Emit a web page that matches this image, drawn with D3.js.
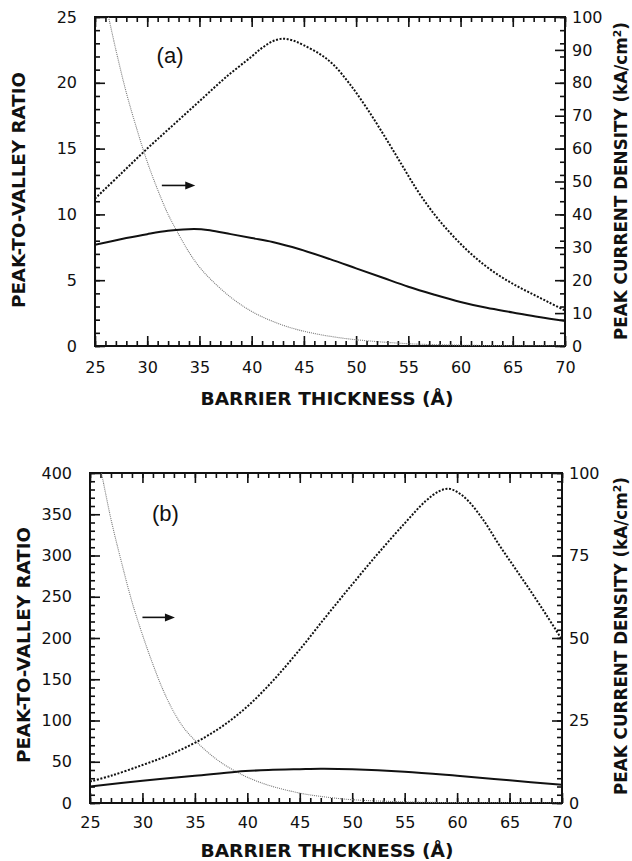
<!DOCTYPE html>
<html>
<head>
<meta charset="utf-8">
<script src="https://cdn.jsdelivr.net/npm/d3@7"></script>
<style>
  body { margin: 0; background: #fff; }
  svg { display: block; font-family: "DejaVu Sans", Arial, sans-serif; }
  .tick text { font-size: 16px; fill: #111; font-family: "DejaVu Sans", sans-serif; }
  .tick line { stroke: #111; stroke-width: 1.6; }
  .title { font-size: 17px; font-weight: bold; fill: #111; }
</style>
</head>
<body>
<svg id="chart" width="632" height="861"></svg>
<script>
// panel (a) data
const aSolidX = [25, 28, 30, 32, 34.5, 36, 38, 40, 42, 44.6, 47.5, 50, 52.5, 55, 57.5, 60, 62.5, 65, 67.5, 70];
const aSolidY = [7.7, 8.2, 8.5, 8.75, 8.9, 8.8, 8.5, 8.2, 7.9, 7.35, 6.6, 5.9, 5.2, 4.5, 3.9, 3.35, 2.9, 2.55, 2.2, 1.9];
const aDashX = [25, 27.5, 30, 32.5, 35, 37.5, 40, 41, 42, 43, 44, 45, 46.5, 47.8, 49.4, 51, 52.6, 54.2, 55.8, 57.4, 59, 60.6, 62.2, 63.8, 65.4, 67, 68.5, 70];
const aDashY = [11.2, 13.1, 15.0, 16.8, 18.6, 20.4, 22.0, 22.65, 23.15, 23.35, 23.2, 22.85, 22.2, 21.4, 19.9, 18.1, 16.1, 14.0, 11.9, 10.1, 8.6, 7.3, 6.2, 5.3, 4.55, 3.9, 3.3, 2.7];
const aDotX = [26.3, 27, 28, 29, 30, 31, 32, 33, 34, 35, 36, 38, 40, 42, 44, 46, 48, 50, 55, 60, 70];
const aDotY = [100, 90, 77, 66, 56, 47.5, 40, 34, 28.5, 24, 20.5, 14.8, 10.5, 7.5, 5.3, 3.8, 2.7, 1.9, 0.7, 0.25, 0];

// panel (b) data
const bSolidX = [25, 30, 35, 39, 42, 45, 47, 50, 55, 60, 65, 70];
const bSolidY = [20, 27, 33, 38, 40, 41, 41.5, 41, 38, 33, 27.5, 22];
const bDashX = [25, 27, 30, 32.5, 35, 37.5, 40, 42.5, 45, 47.5, 50, 52.5, 55, 57, 58.3, 59.2, 60, 61, 62.5, 64, 65.5, 67, 68.5, 70];
const bDashY = [26, 33, 46, 58, 73, 92, 117, 149, 186, 226, 265, 303, 339, 366, 378, 381, 377, 367, 343, 313, 285, 257, 228, 198];
const bDotX = [26.1, 27, 28, 29, 30, 31, 32, 33, 34, 35, 36, 37, 38, 39, 40, 42, 45, 47, 50, 55, 60, 70];
const bDotY = [100, 86, 73, 61, 51, 42, 34, 27.5, 22.5, 19, 16, 13.4, 11.2, 9.4, 7.8, 5.4, 3.0, 2.0, 1.0, 0.35, 0.12, 0];

// axes
const xMajor = d3.range(25, 71, 5);
const xMinor = d3.range(25, 71, 1);
const aLeftMajor = d3.range(0, 26, 5);
const aLeftMinor = d3.range(0, 26, 1);
const aRightMajor = d3.range(0, 101, 10);
const bLeftMajor = d3.range(0, 401, 50);
const bLeftMinor = d3.range(0, 401, 10);
const bRightMajor = d3.range(0, 101, 25);

const xTitle = 'BARRIER THICKNESS (Å)';
const leftTitle = 'PEAK-TO-VALLEY RATIO';

const svg = d3.select('#chart');

function drawPanel(cfg) {
    const x = d3.scaleLinear().domain([25, 70]).range([cfg.left, cfg.right]);
    const yL = d3.scaleLinear().domain([0, cfg.leftMax]).range([cfg.bottom, cfg.top]);
    const yR = d3.scaleLinear().domain([0, 100]).range([cfg.bottom, cfg.top]);
    const g = svg.append('g');

    const clipId = 'clip-' + cfg.name;
    g.append('clipPath').attr('id', clipId)
        .append('rect')
        .attr('x', cfg.left).attr('y', cfg.top)
        .attr('width', cfg.right - cfg.left).attr('height', cfg.bottom - cfg.top);

    // ticks (all pointing inward)
    function addAxis(axis, tx, ty) {
        const a = g.append('g').attr('transform', `translate(${tx},${ty})`).call(axis);
        a.select('.domain').remove();
        return a;
    }
    addAxis(d3.axisBottom(x).tickValues(xMinor).tickSize(-5).tickFormat(''), 0, cfg.bottom);
    addAxis(d3.axisBottom(x).tickValues(xMajor).tickSize(-10).tickPadding(cfg.xPad), 0, cfg.bottom);
    addAxis(d3.axisTop(x).tickValues(xMinor).tickSize(-5).tickFormat(''), 0, cfg.top);
    addAxis(d3.axisTop(x).tickValues(xMajor).tickSize(-10).tickFormat(''), 0, cfg.top);
    addAxis(d3.axisLeft(yL).tickValues(cfg.leftMinor).tickSize(-5).tickFormat(''), cfg.left, 0);
    addAxis(d3.axisLeft(yL).tickValues(cfg.leftMajor).tickSize(-10).tickPadding(18), cfg.left, 0);
    addAxis(d3.axisRight(yL).tickValues(cfg.leftMinor).tickSize(-5).tickFormat(''), cfg.right, 0);
    addAxis(d3.axisRight(yR).tickValues(cfg.rightMajor).tickSize(-10).tickPadding(7), cfg.right, 0);

    // frame
    g.append('rect')
        .attr('x', cfg.left).attr('y', cfg.top)
        .attr('width', cfg.right - cfg.left).attr('height', cfg.bottom - cfg.top)
        .attr('fill', 'none').attr('stroke', '#111').attr('stroke-width', 2);

    const curve = d3.curveCatmullRom.alpha(0.5);
    const lineL = d3.line().x(d => x(d[0])).y(d => yL(d[1])).curve(curve);
    const lineR = d3.line().x(d => x(d[0])).y(d => yR(d[1])).curve(curve);
    const curves = g.append('g').attr('clip-path', `url(#${clipId})`);

    // thin dotted grey curve (right axis)
    curves.append('path')
        .datum(d3.zip(cfg.dotX, cfg.dotY))
        .attr('d', lineR)
        .attr('fill', 'none').attr('stroke', '#777')
        .attr('stroke-width', 1.1).attr('stroke-dasharray', '1,1');

    // heavy dotted curve
    curves.append('path')
        .datum(d3.zip(cfg.dashX, cfg.dashY))
        .attr('d', lineL)
        .attr('fill', 'none').attr('stroke', '#111')
        .attr('stroke-width', 2).attr('stroke-dasharray', '2,1.6');

    // solid curve
    curves.append('path')
        .datum(d3.zip(cfg.solidX, cfg.solidY))
        .attr('d', lineL)
        .attr('fill', 'none').attr('stroke', '#111')
        .attr('stroke-width', 2);

    // panel label
    g.append('text')
        .attr('x', x(cfg.labelAt[0])).attr('y', yL(cfg.labelAt[1]))
        .attr('font-size', 22).attr('fill', '#111')
        .attr('font-family', '"Liberation Sans", Arial, sans-serif')
        .text(cfg.label);

    // arrow pointing to the right axis
    const ay = yL(cfg.arrow[2]);
    const ax1 = x(cfg.arrow[0]), ax2 = x(cfg.arrow[1]);
    g.append('line')
        .attr('x1', ax1).attr('x2', ax2 - 8).attr('y1', ay).attr('y2', ay)
        .attr('stroke', '#111').attr('stroke-width', 1.6);
    g.append('path')
        .attr('d', `M${ax2},${ay} L${ax2 - 10},${ay - 4} L${ax2 - 10},${ay + 4} Z`)
        .attr('fill', '#111');

    // titles
    g.append('text').attr('class', 'title')
        .attr('x', 327).attr('y', cfg.xTitleY)
        .attr('text-anchor', 'middle')
        .attr('textLength', 253).attr('lengthAdjust', 'spacingAndGlyphs')
        .text(xTitle);
    g.append('text').attr('class', 'title')
        .attr('transform', `translate(${cfg.leftTitleX},${cfg.leftTitleY}) rotate(-90)`)
        .attr('text-anchor', 'middle')
        .attr('textLength', 236).attr('lengthAdjust', 'spacingAndGlyphs')
        .text(leftTitle);
    const rt = g.append('text').attr('class', 'title')
        .attr('transform', `translate(627,${cfg.rightTitleY}) rotate(-90)`)
        .attr('text-anchor', 'middle')
        .attr('font-size', 16)
        .attr('textLength', 318).attr('lengthAdjust', 'spacingAndGlyphs');
    rt.append('tspan').text('PEAK CURRENT DENSITY (kA/cm');
    rt.append('tspan').attr('dy', -6).attr('font-size', 11).text('2');
    rt.append('tspan').attr('dy', 6).text(')');
}

drawPanel({
    name: 'a', left: 95, right: 565, top: 17, bottom: 346, leftMax: 25,
    leftMajor: aLeftMajor, leftMinor: aLeftMinor, rightMajor: aRightMajor,
    solidX: aSolidX, solidY: aSolidY, dashX: aDashX, dashY: aDashY, dotX: aDotX, dotY: aDotY,
    label: '(a)', labelAt: [30.9, 21.5], arrow: [31.4, 34.6, 12.2],
    xPad: 16, xTitleY: 405, leftTitleX: 25, leftTitleY: 190, rightTitleY: 181
});

drawPanel({
    name: 'b', left: 90, right: 562, top: 473, bottom: 803, leftMax: 400,
    leftMajor: bLeftMajor, leftMinor: bLeftMinor, rightMajor: bRightMajor,
    solidX: bSolidX, solidY: bSolidY, dashX: bDashX, dashY: bDashY, dotX: bDotX, dotY: bDotY,
    label: '(b)', labelAt: [30.9, 342], arrow: [30.0, 33.1, 225],
    xPad: 14, xTitleY: 857, leftTitleX: 29.5, leftTitleY: 645, rightTitleY: 636
});
</script>
</body>
</html>
